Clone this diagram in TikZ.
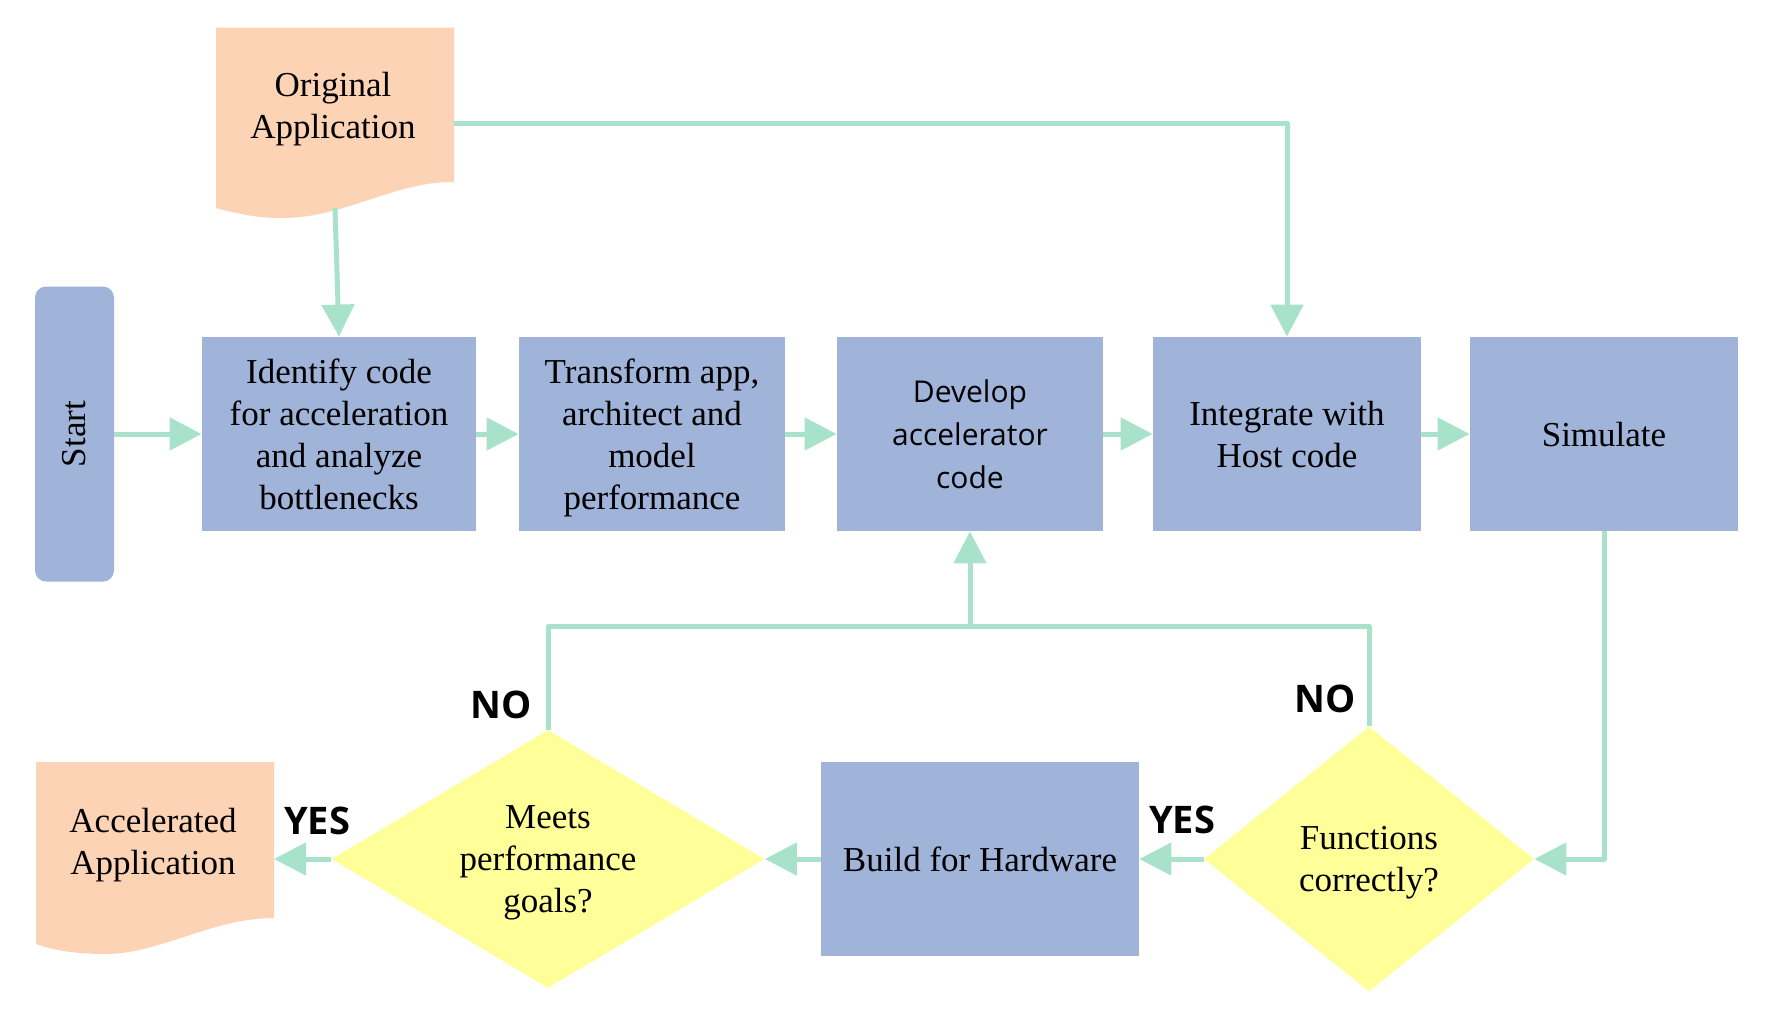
\documentclass[tikz,border=0pt]{standalone}
\usepackage{fontspec}
\setmainfont{Liberation Serif}
\newfontfamily\osans{Open Sans}
\usetikzlibrary{shapes.geometric,arrows.meta}
\definecolor{boxblue}{RGB}{160,179,216}
\definecolor{peach}{RGB}{253,211,181}
\definecolor{dyellow}{RGB}{255,255,153}
\definecolor{conngreen}{RGB}{168,226,203}
\begin{document}
\begin{tikzpicture}[x=0.5pt,y=-0.5pt,
  txt/.style={align=center, text depth=0pt, font=\fontsize{17.5}{21}\selectfont},
  proc/.style={rectangle, fill=boxblue, inner sep=0pt, txt},
  dec/.style={diamond, fill=dyellow, inner sep=0pt, txt},
  conn/.style={draw=conngreen, line width=2.5pt, line join=round, -{Triangle[length=16pt,width=16pt]}},
  connline/.style={draw=conngreen, line width=2.5pt, line join=round},
  lbl/.style={font=\osans\bfseries\fontsize{19}{22}\selectfont}
]
\useasboundingbox (0,0) rectangle (1790,1018);

% documents
\fill[peach] (216,27.5) -- (454,27.5) -- (454,182)
  .. controls (395,181) and (345,218) .. (282,218)
  .. controls (255,218) and (235,213) .. (216,208) -- cycle;
\node[txt] (origtext) at (333,105) {Original\\Application};
\fill[peach] (36,762) -- (274,762) -- (274,918)
  .. controls (212,918) and (160,954) .. (105,954)
  .. controls (80,954) and (55,951) .. (36,944) -- cycle;
\node[txt] (acctext) at (153,841) {Accelerated\\Application};

% process boxes
\node[proc, minimum width=39.5pt, minimum height=147.5pt, rounded corners=5.5pt] (start) at (74.5,434) {\rotatebox{90}{Start}};
\node[proc, minimum width=137pt, minimum height=97pt] (identify) at (339,434) {Identify code\\for acceleration\\and analyze\\bottlenecks};
\node[proc, minimum width=133pt, minimum height=97pt] (transform) at (652,434) {Transform app,\\architect and\\model\\performance};
\node[proc, minimum width=133pt, minimum height=97pt, font=\osans\fontsize{15}{21.3}\selectfont] (develop) at (970,434) {Develop\\accelerator\\code};
\node[proc, minimum width=134pt, minimum height=97pt] (integrate) at (1287,434) {Integrate with\\Host code};
\node[proc, minimum width=134pt, minimum height=97pt] (simulate) at (1604,434) {Simulate};
\node[proc, minimum width=159pt, minimum height=97pt] (build) at (980,859) {Build for Hardware};

% decisions
\node[dec, minimum width=216.5pt, minimum height=129pt, aspect=1.68] (meets) at (548,859) {Meets\\performance\\goals?};
\node[dec, minimum width=165pt, minimum height=132.5pt, aspect=1.245] (functions) at (1369,859) {Functions\\correctly?};

% coordinates
\coordinate (origS) at (335,208);
\coordinate (origE) at (454,123);
\coordinate (accE) at (274,859);
\coordinate (junc) at (970,626);

% connectors
\draw[conn] (start.east) -- (identify.west);
\draw[conn] (identify) -- (transform);
\draw[conn] (transform) -- (develop);
\draw[conn] (develop) -- (integrate);
\draw[conn] (integrate) -- (simulate);
\draw[conn] (origS) -- (identify.north);
\draw[conn] (origE) -| (integrate.north);
\draw[conn] (simulate.south) |- (functions.east);
\draw[conn] (functions.west) -- (build.east);
\draw[conn] (build.west) -- (meets.east);
\draw[conn] (meets.west) -- (accE);
\draw[connline] (meets.north) |- (junc);
\draw[connline] (functions.north) |- (junc);
\draw[conn] (junc) -- (develop.south);

% labels
\node[lbl] (no1) at (501,705) {NO};
\node[lbl] (no2) at (1325,699) {NO};
\node[lbl] (yes1) at (317,821) {YES};
\node[lbl] (yes2) at (1182,820) {YES};
\end{tikzpicture}
\end{document}
